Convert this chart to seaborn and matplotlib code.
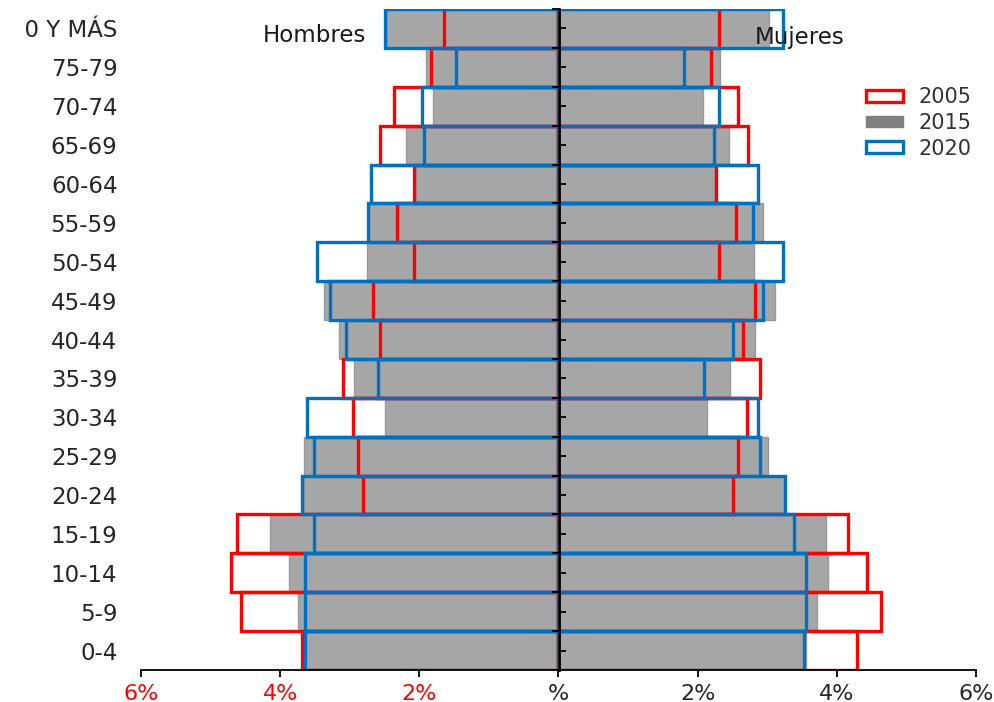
import numpy as np
import pandas as pd
import matplotlib
matplotlib.use("Agg")
import matplotlib.pyplot as plt
import seaborn as sns
from matplotlib.patches import Patch
from matplotlib.ticker import FixedLocator, NullFormatter
from matplotlib.transforms import Bbox, TransformedBbox

# ---------------- data (percent of population) ----------------
ages = ["0-4", "5-9", "10-14", "15-19", "20-24", "25-29", "30-34", "35-39",
        "40-44", "45-49", "50-54", "55-59", "60-64", "65-69", "70-74",
        "75-79", "80 Y MÁS"]

hombres_2005 = [3.69, 4.57, 4.70, 4.62, 2.81, 2.88, 2.95, 3.09, 2.57, 2.67,
                2.07, 2.32, 2.07, 2.56, 2.36, 1.83, 1.65]
hombres_2015 = [3.66, 3.74, 3.87, 4.15, 3.66, 3.66, 2.50, 2.94, 3.16, 3.37,
                2.75, 2.73, 2.05, 2.19, 1.81, 1.90, 2.46]
hombres_2020 = [3.64, 3.65, 3.65, 3.51, 3.68, 3.51, 3.61, 2.60, 3.05, 3.29,
                3.47, 2.74, 2.70, 1.94, 1.96, 1.47, 2.50]

mujeres_2005 = [4.29, 4.64, 4.44, 4.16, 2.51, 2.58, 2.71, 2.89, 2.65, 2.82,
                2.30, 2.55, 2.26, 2.72, 2.58, 2.19, 2.30]
mujeres_2015 = [3.56, 3.72, 3.87, 3.85, 3.24, 3.01, 2.13, 2.46, 2.83, 3.11,
                2.81, 2.94, 2.24, 2.45, 2.08, 2.32, 3.02]
mujeres_2020 = [3.53, 3.56, 3.56, 3.38, 3.25, 2.89, 2.86, 2.09, 2.51, 2.94,
                3.22, 2.80, 2.86, 2.23, 2.30, 1.81, 3.22]

years = ["2005", "2015", "2020"]
x_ticks = [-6, -4, -2, 0, 2, 4, 6]
x_tick_labels = ["6%", "4%", "2%", "%", "2%", "4%", "6%"]

RED = "#FF0000"
GRAY = "#A6A6A6"
BLUE = "#0070C0"

# ---------------- figure ----------------
sns.set_theme(style="white")
plt.rcParams["font.family"] = ["DejaVu Sans"]

W, H = 995, 702
fig = plt.figure(figsize=(W / 100, H / 100), dpi=100)
ax = fig.add_axes([141 / W, (H - 670) / H, (976 - 141) / W, (670 - 9) / H])

order = ages[::-1]


def draw(vals, sign, **kw):
    df = pd.DataFrame({"edad": ages, "pct": sign * np.asarray(vals, float)})
    sns.barplot(data=df, x="pct", y="edad", order=order, orient="h",
                width=1.0, errorbar=None, ax=ax, saturation=1, **kw)


# 2015: grey filled bars
draw(hombres_2015, -1, color=GRAY, edgecolor="#9a9a9a", linewidth=1.0)
draw(mujeres_2015, 1, color=GRAY, edgecolor="#9a9a9a", linewidth=1.0)
# 2005: red outline
draw(hombres_2005, -1, color=RED, fill=False, linewidth=2.4)
draw(mujeres_2005, 1, color=RED, fill=False, linewidth=2.4)
# 2020: blue outline
draw(hombres_2020, -1, color=BLUE, fill=False, linewidth=2.4)
draw(mujeres_2020, 1, color=BLUE, fill=False, linewidth=2.4)

ax.set_xlim(-6, 6)
ax.set_ylim(len(ages) - 0.5, -0.5)
ax.set_xlabel("")
ax.set_ylabel("")
ax.set_xticks(x_ticks)
ax.set_xticklabels(x_tick_labels)
for lbl, v in zip(ax.get_xticklabels(), x_ticks):
    lbl.set_color(RED if v < 0 else "#262626")

for s in ["left", "top", "right"]:
    ax.spines[s].set_visible(False)
ax.spines["bottom"].set_color("black")
ax.spines["bottom"].set_linewidth(1.3)

ax.tick_params(axis="y", length=0, pad=17, labelsize=16.5, labelcolor="#262626")
ax.tick_params(axis="x", length=5, width=1.3, direction="out", pad=5,
               labelsize=16, color="black", bottom=True)

# central axis with ticks
sec = ax.secondary_yaxis(0.5)
sec.set_zorder(5)
n = len(ages)
sec.yaxis.set_major_locator(FixedLocator(np.arange(-0.5, n, 1.0)))
sec.yaxis.set_minor_locator(FixedLocator(np.arange(0, n, 1.0)))
sec.yaxis.set_major_formatter(NullFormatter())
sec.yaxis.set_minor_formatter(NullFormatter())
sec.tick_params(which="major", direction="in", length=5, width=1.3, color="black")
sec.tick_params(which="minor", direction="out", length=5, width=1.3, color="black")
for s in sec.spines.values():
    s.set_color("black")
    s.set_linewidth(2.0)

# sex labels
fig.text(366 / W, 1 - 42 / H, "Hombres", ha="right", va="baseline",
         fontsize=16.5, color="#1a1a1a")
fig.text(755 / W, 1 - 44 / H, "Mujeres", ha="left", va="baseline",
         fontsize=16.5, color="#1a1a1a")

# legend
handles = [
    Patch(facecolor="white", edgecolor=RED, linewidth=2.4, label=years[0]),
    Patch(facecolor="#808080", edgecolor="#808080", linewidth=1.0, label=years[1]),
    Patch(facecolor="white", edgecolor=BLUE, linewidth=2.4, label=years[2]),
]
fig.legend(handles=handles, loc="upper left", bbox_to_anchor=(866 / W, 1 - 87 / H),
           frameon=False, fontsize=15, handlelength=1.8, handleheight=0.5,
           handletextpad=0.72, labelspacing=0.28, borderpad=0, borderaxespad=0,
           labelcolor="#333333")

# clip the first character of the top label as in the original
fig.canvas.draw()
for lbl in ax.get_yticklabels():
    if lbl.get_text() == ages[-1]:
        bb = lbl.get_window_extent()
        fs_px = lbl.get_fontsize() * 100 / 72
        cx = bb.x0 + 0.636 * fs_px
        lbl.set_clip_box(TransformedBbox(Bbox.from_extents(cx / W, 0, 1, 1), fig.transFigure))
        lbl.set_clip_on(True)

fig.savefig("out.png", dpi=100)
